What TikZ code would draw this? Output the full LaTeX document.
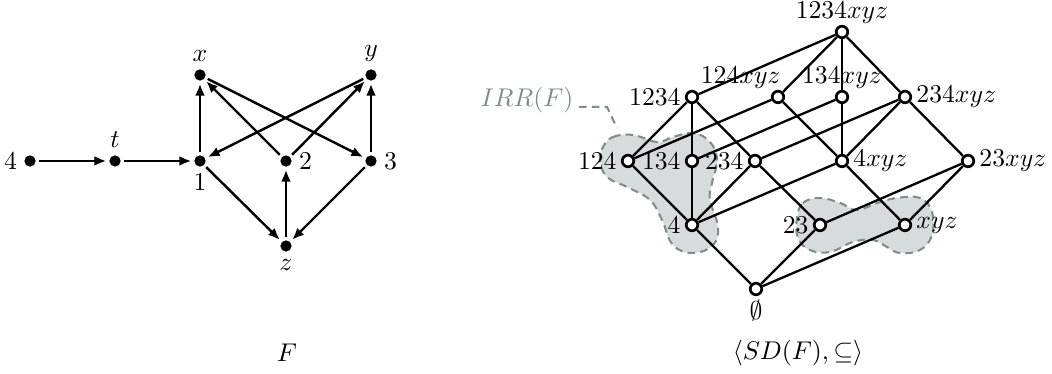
\documentclass[tikz,border=0pt]{standalone}
\usetikzlibrary{arrows.meta}
\definecolor{irrfill}{RGB}{215,219,219}
\definecolor{irrline}{RGB}{125,140,140}
\begin{document}
\begin{tikzpicture}[x=0.39pt,y=-0.39pt,
  dot/.style={circle,fill=black,inner sep=0pt,minimum size=4.4pt,outer sep=1.2pt},
  arr/.style={-{Latex[length=4.6pt,width=3.8pt]},line width=0.95pt},
  lnode/.style={circle,draw=black,fill=white,line width=1.05pt,inner sep=0pt,minimum size=4.5pt},
  ln/.style={line width=0.9pt},
  every label/.style={inner sep=1.5pt},
  blob/.style={fill=irrfill,draw=irrline,dash pattern=on 3pt off 2pt,line width=0.8pt},
  leader/.style={draw=irrline,dash pattern=on 3pt off 2pt,line width=0.8pt}
]
\useasboundingbox (0,0) rectangle (1052,374);

% ---------- left graph F ----------
\node[dot,label=left:$4$] (d4) at (30,161) {};
\node[dot,label=above:$t$] (dt) at (115,161) {};
\node[dot,label=below:$1$] (d1) at (200,161) {};
\node[dot,label=above:$x$] (dx) at (200,75) {};
\node[dot,label=above:$y$] (dy) at (371,75) {};
\node[dot,label=right:$2$] (d2) at (286,161) {};
\node[dot,label=right:$3$] (d3) at (371,161) {};
\node[dot,label=below:$z$] (dz) at (286,246) {};

\draw[arr] (d4) -- (dt);
\draw[arr] (dt) -- (d1);
\draw[arr] (d1) -- (dx);
\draw[arr] (d2) -- (dx);
\draw[arr] (dx) -- (d3);
\draw[arr] (dy) -- (d1);
\draw[arr] (d2) -- (dy);
\draw[arr] (d3) -- (dy);
\draw[arr] (d1) -- (dz);
\draw[arr] (dz) -- (d2);
\draw[arr] (d3) -- (dz);

\node (capF) at (287,353) {$F$};

% ---------- blobs ----------
\draw[blob] plot[smooth cycle,tension=0.7] coordinates {
  (603,147) (613,137) (633,135) (657,142) (673,137) (693,133) (710,142)
  (717,160) (712,183) (710,200) (718,227) (713,245) (693,253) (673,245)
  (662,220) (650,200) (627,187) (607,177) (600,160)};
\draw[blob] plot[smooth cycle,tension=0.7] coordinates {
  (797,218) (803,203) (820,198) (840,203) (857,210) (877,203) (897,198)
  (920,198) (932,212) (932,235) (920,250) (900,253) (887,247) (873,240)
  (853,242) (830,252) (810,250) (798,238)};

\node[text=irrline,inner sep=0pt] (irr) at (527,100) {$IRR(F)$};
\coordinate (lead1) at (607,107);
\coordinate (lead2) at (617,128);
\draw[leader] ([xshift=2pt,yshift=-2.7pt]irr.east) -- (lead1) -- (lead2);

% ---------- lattice ----------
\node[lnode,label={[inner sep=0.3pt]above:$1234xyz$}] (top) at (842,32) {};
\node[lnode,label=left:$1234$] (n1234) at (692,97) {};
\node[lnode,label={[anchor=south east,inner sep=0.3pt,xshift=1.5pt]north:$124xyz$}] (n124xyz) at (778,97) {};
\node[lnode,label={[inner sep=0.3pt]above:$134xyz$}] (n134xyz) at (842,97) {};
\node[lnode,label=right:$234xyz$] (n234xyz) at (905,97) {};
\node[lnode,label=left:$124$] (n124) at (628,161) {};
\node[lnode,label=left:$134$] (n134) at (692,161) {};
\node[lnode,label=left:$234$] (n234) at (755,161) {};
\node[lnode,label=right:$4xyz$] (n4xyz) at (842,161) {};
\node[lnode,label=right:$23xyz$] (n23xyz) at (968,161) {};
\node[lnode,label=left:$4$] (n4) at (692,225) {};
\node[lnode,label=left:$23$] (n23) at (820,225) {};
\node[lnode,label=right:$xyz$] (nxyz) at (905,225) {};
\node[lnode,label=below:$\emptyset$] (nbot) at (756,289) {};

\draw[ln] (nbot) -- (n4);
\draw[ln] (nbot) -- (n23);
\draw[ln] (nbot) -- (nxyz);
\draw[ln] (n4) -- (n124);
\draw[ln] (n4) -- (n134);
\draw[ln] (n4) -- (n234);
\draw[ln] (n4) -- (n4xyz);
\draw[ln] (n23) -- (n234);
\draw[ln] (n23) -- (n23xyz);
\draw[ln] (nxyz) -- (n4xyz);
\draw[ln] (nxyz) -- (n23xyz);
\draw[ln] (n124) -- (n1234);
\draw[ln] (n124) -- (n124xyz);
\draw[ln] (n134) -- (n1234);
\draw[ln] (n134) -- (n134xyz);
\draw[ln] (n234) -- (n1234);
\draw[ln] (n234) -- (n234xyz);
\draw[ln] (n4xyz) -- (n124xyz);
\draw[ln] (n4xyz) -- (n134xyz);
\draw[ln] (n4xyz) -- (n234xyz);
\draw[ln] (n23xyz) -- (n234xyz);
\draw[ln] (n1234) -- (top);
\draw[ln] (n124xyz) -- (top);
\draw[ln] (n134xyz) -- (top);
\draw[ln] (n234xyz) -- (top);

\node (capSD) at (798,353) {$\langle SD(F),\subseteq\rangle$};
\end{tikzpicture}
\end{document}
